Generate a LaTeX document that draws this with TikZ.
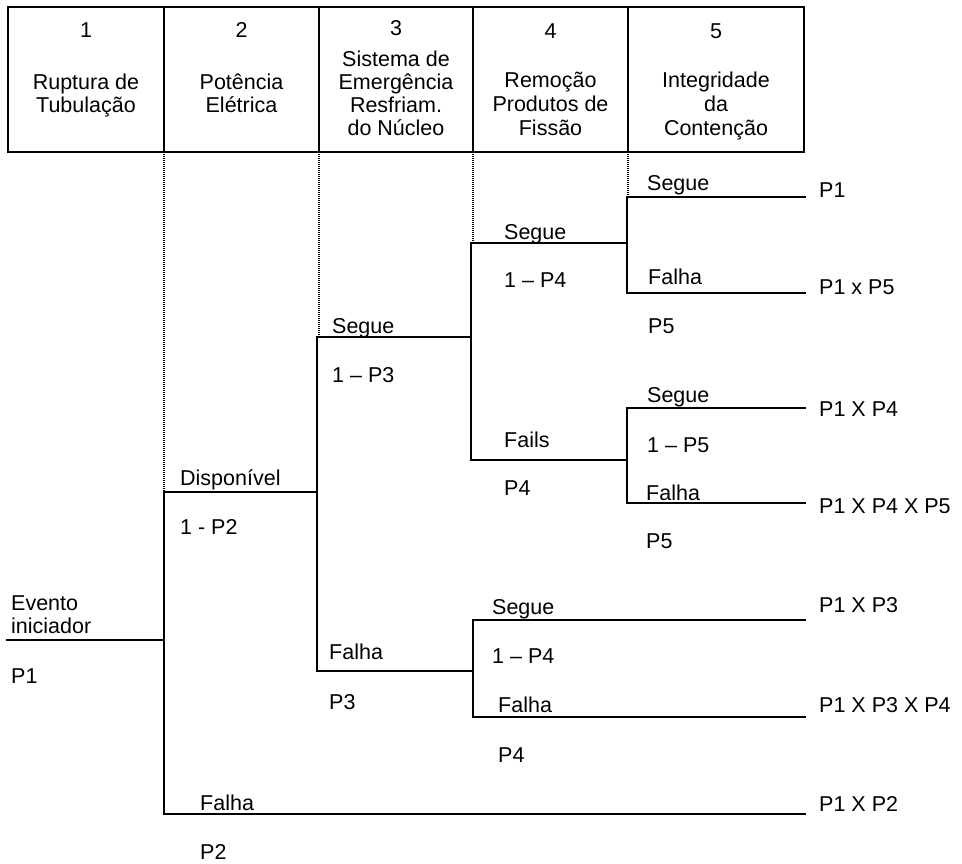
\documentclass[tikz,border=0pt]{standalone}
\usepackage{fontspec}
\setmainfont{Liberation Sans}
\begin{document}
\begin{tikzpicture}[x=1pt,y=-1pt,
  font=\fontsize{21.5}{24}\selectfont,
  lbl/.style={anchor=base west,inner sep=0pt},
  hd/.style={anchor=base,inner sep=0pt},
  branch/.style={line width=1.4pt,line cap=rect},
  frame/.style={line width=1.7pt},
  guide/.style={line width=1.1pt,dash pattern=on 1pt off 1pt}]
\useasboundingbox (0,0) rectangle (962,863);

% ---- header table ----
\draw[frame] (8,7) rectangle (804,152);
\foreach \xx in {164,319,473,628} \draw[frame] (\xx,7) -- (\xx,152);

\node[hd] (h1n) at (86,37) {1};
\node[hd] (h1a) at (86,89) {Ruptura de};
\node[hd] (h1b) at (86,112) {Tubulação};

\node[hd] (h2n) at (241.5,37) {2};
\node[hd] (h2a) at (241.5,89) {Potência};
\node[hd] (h2b) at (241.5,112) {Elétrica};

\node[hd] (h3n) at (396,35) {3};
\node[hd] (h3a) at (396,66) {Sistema de};
\node[hd] (h3b) at (396,89) {Emergência};
\node[hd] (h3c) at (396,112) {Resfriam.};
\node[hd] (h3d) at (396,135) {do Núcleo};

\node[hd] (h4n) at (550.5,38) {4};
\node[hd] (h4a) at (550.5,87) {Remoção};
\node[hd] (h4b) at (550.5,111) {Produtos de};
\node[hd] (h4c) at (550.5,135) {Fissão};

\node[hd] (h5n) at (716,38) {5};
\node[hd] (h5a) at (716,87) {Integridade};
\node[hd] (h5b) at (716,111) {da};
\node[hd] (h5c) at (716,135) {Contenção};

% ---- tree junctions ----
\coordinate (ev)  at (7,640);
\coordinate (f1)  at (164,640);
\coordinate (f1t) at (164,492);
\coordinate (f1b) at (164,814);
\coordinate (f2)  at (317,492);
\coordinate (f2t) at (317,337);
\coordinate (f2b) at (317,671);
\coordinate (f3)  at (471,337);
\coordinate (f3t) at (471,243);
\coordinate (f3b) at (471,460);
\coordinate (f4t) at (627,197);
\coordinate (f4m) at (627,243);
\coordinate (f4b) at (627,293);
\coordinate (f5t) at (627,408);
\coordinate (f5m) at (627,460);
\coordinate (f5b) at (627,503);
\coordinate (f6t) at (473,620);
\coordinate (f6m) at (473,671);
\coordinate (f6b) at (473,717);
\coordinate (o1) at (805,197);
\coordinate (o2) at (805,293);
\coordinate (o3) at (805,408);
\coordinate (o4) at (805,503);
\coordinate (o5) at (805,620);
\coordinate (o6) at (805,717);
\coordinate (o7) at (805,814);

% dotted guides from the header down to each branch point
\draw[guide] (164,152) -- (f1t);
\draw[guide] (319,152) -- (319,337);
\draw[guide] (473,152) -- (473,243);
\draw[guide] (628,152) -- (628,197);

% ---- branches ----
\draw[branch] (ev) -- (f1);
\draw[branch] (f2) -- (f1t) -- (f1b) -- (o7);
\draw[branch] (f3) -- (f2t) -- (f2b) -- (f6m);
\draw[branch] (f4m) -- (f3t) -- (f3b) -- (f5m);
\draw[branch] (o1) -- (f4t) -- (f4b) -- (o2);
\draw[branch] (o3) -- (f5t) -- (f5b) -- (o4);
\draw[branch] (o5) -- (f6t) -- (f6b) -- (o6);

% ---- branch labels ----
\node[lbl] (l0a) at (11,610) {Evento};
\node[lbl] (l0b) at (11,633) {iniciador};
\node[lbl] (l0c) at (11,683) {P1};

\node[lbl] (l1a) at (180,485) {Disponível};
\node[lbl] (l1b) at (180,534) {1 - P2};
\node[lbl] (l1c) at (200,810) {Falha};
\node[lbl] (l1d) at (200,859) {P2};

\node[lbl] (l2a) at (332,333) {Segue};
\node[lbl] (l2b) at (332,382) {1 -- P3};
\node[lbl] (l2c) at (329,659) {Falha};
\node[lbl] (l2d) at (329,709) {P3};

\node[lbl] (l3a) at (504,239) {Segue};
\node[lbl] (l3b) at (504,287) {1 -- P4};
\node[lbl] (l3c) at (504,447) {Fails};
\node[lbl] (l3d) at (504,495) {P4};

\node[lbl] (l4a) at (492,614) {Segue};
\node[lbl] (l4b) at (492,663) {1 -- P4};
\node[lbl] (l4c) at (498,712) {Falha};
\node[lbl] (l4d) at (498,762) {P4};

\node[lbl] (l5a) at (647,190) {Segue};
\node[lbl] (l5b) at (648,284) {Falha};
\node[lbl] (l5c) at (648,333) {P5};
\node[lbl] (l5d) at (647,402) {Segue};
\node[lbl] (l5e) at (647,452) {1 -- P5};
\node[lbl] (l5f) at (646,500) {Falha};
\node[lbl] (l5g) at (646,548) {P5};

% ---- outcomes ----
\node[lbl] (r1) at (819,197) {P1};
\node[lbl] (r2) at (819,294) {P1 x P5};
\node[lbl] (r3) at (819,416) {P1 X P4};
\node[lbl] (r4) at (819,513) {P1 X P4 X P5};
\node[lbl] (r5) at (819,612) {P1 X P3};
\node[lbl] (r6) at (819,712) {P1 X P3 X P4};
\node[lbl] (r7) at (819,811) {P1 X P2};
\end{tikzpicture}
\end{document}
